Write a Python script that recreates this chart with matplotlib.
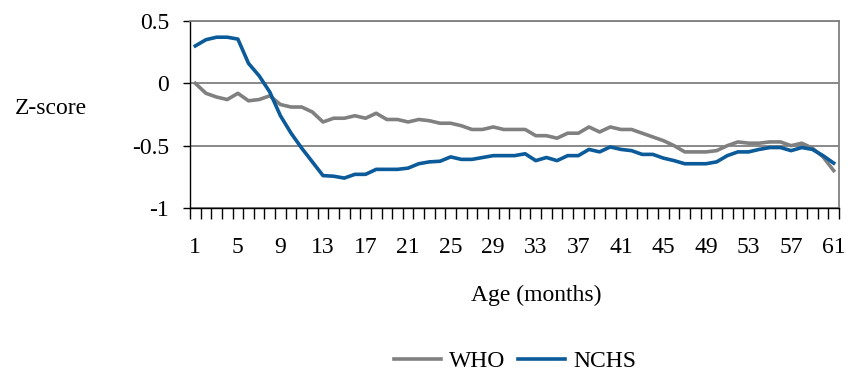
import numpy as np
import matplotlib.pyplot as plt

plt.rcParams['font.family'] = ['Liberation Serif', 'DejaVu Serif']

# Alter in Monaten 1..61
months = list(range(1, 62))

who = [0.00, -0.08, -0.11, -0.13, -0.08, -0.14, -0.13, -0.10, -0.17, -0.19,
       -0.19, -0.23, -0.31, -0.28, -0.28, -0.26, -0.28, -0.24, -0.29, -0.29,
       -0.31, -0.29, -0.30, -0.32, -0.32, -0.34, -0.37, -0.37, -0.35, -0.37,
       -0.37, -0.37, -0.42, -0.42, -0.44, -0.40, -0.40, -0.35, -0.39, -0.35,
       -0.37, -0.37, -0.40, -0.43, -0.46, -0.50, -0.55, -0.55, -0.55, -0.54,
       -0.50, -0.47, -0.48, -0.48, -0.47, -0.47, -0.50, -0.48, -0.52, -0.59,
       -0.70]

nchs = [0.30, 0.35, 0.37, 0.37, 0.355, 0.16, 0.06, -0.07, -0.26, -0.40,
        -0.52, -0.63, -0.74, -0.745, -0.76, -0.73, -0.73, -0.69, -0.69, -0.69,
        -0.68, -0.645, -0.63, -0.625, -0.59, -0.61, -0.61, -0.595, -0.58, -0.58,
        -0.58, -0.565, -0.62, -0.595, -0.62, -0.58, -0.58, -0.53, -0.55, -0.51,
        -0.53, -0.54, -0.57, -0.57, -0.60, -0.62, -0.645, -0.645, -0.645, -0.63,
        -0.58, -0.55, -0.55, -0.53, -0.515, -0.515, -0.54, -0.515, -0.53, -0.58,
        -0.64]

xtick_labels = list(range(1, 62, 4))
yticks = [0.5, 0, -0.5, -1]
ytick_labels = ['0.5', '0', '-0.5', '-1']

fs = 17

fig = plt.figure(figsize=(8.48, 3.75), dpi=100)
ax = fig.add_axes([190/848, 1 - 208/375, 649/848, 187/375])

ax.plot(months, who, color='#808080', lw=2.6, label='WHO', zorder=3)
ax.plot(months, nchs, color='#0B5A99', lw=2.6, label='NCHS', zorder=4)

ax.set_xlim(0.5, 61.5)
ax.set_ylim(-1, 0.5)

# Kategorien-Achse: Striche zwischen den Kategorien
ax.set_xticks(np.arange(0.5, 62, 1), minor=True)
ax.set_xticks(xtick_labels)
ax.set_xticklabels([str(v) for v in xtick_labels], fontsize=fs)
ax.tick_params(axis='x', which='major', length=0, pad=21)
ax.tick_params(axis='x', which='minor', length=8, width=1, color='black', direction='out')

ax.set_yticks(yticks)
ax.set_yticklabels(ytick_labels, fontsize=fs)
ax.tick_params(axis='y', length=5, width=1, color='black', pad=10)

ax.grid(axis='y', color='#808080', lw=1.3, zorder=1)
for s in ['top', 'right']:
    ax.spines[s].set_color('#808080')
    ax.spines[s].set_linewidth(1.3)
for s in ['left', 'bottom']:
    ax.spines[s].set_color('black')
    ax.spines[s].set_linewidth(1)

fig.text(51/848, 1 - 108/375, 'Z-score', fontsize=fs, ha='center', va='center')
fig.text(536/848, 1 - 295/375, 'Age (months)', fontsize=fs, ha='center', va='center')

fig.legend(loc='center', bbox_to_anchor=(515/848, 1 - 361/375), ncol=2, frameon=False,
           fontsize=fs, handlelength=2.0, handletextpad=0.35, columnspacing=0.5,
           borderpad=0, borderaxespad=0)

fig.savefig('out.png', dpi=100)
